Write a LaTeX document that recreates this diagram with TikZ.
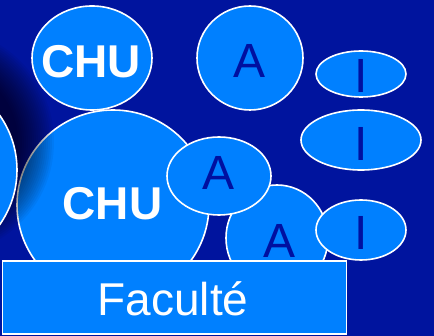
\documentclass[tikz,border=0pt]{standalone}
\usepackage{fontspec}
\setmainfont{Liberation Sans}
\definecolor{bgblue}{RGB}{0,20,158}
\definecolor{lightblue}{RGB}{0,128,255}
\definecolor{txtblue}{RGB}{0,16,160}
\tikzset{
  bubble/.style={fill=lightblue, draw=white, line width=1.6pt},
  chulabel/.style={anchor=base, text=white, font=\fontsize{46}{46}\selectfont\bfseries, inner sep=0pt},
  letterlabel/.style={anchor=base, text=txtblue, font=\fontsize{48}{48}\selectfont, inner sep=0pt},
  faclabel/.style={anchor=base, text=white, font=\fontsize{46}{46}\selectfont, inner sep=0pt}
}
\begin{document}
\begin{tikzpicture}[x=1pt,y=-1pt]
\fill[bgblue] (0,0) rectangle (434,336);
\useasboundingbox (0,0) rectangle (434,336);
\clip (0,0) rectangle (434,336);
% big CHU circle
\path[bubble] (113,205) ellipse [x radius=96, y radius=95];
% blurred shadow of the left circle
\foreach \r in {78,80,...,114} {
  \fill[black, fill opacity=0.045] (-60,142) circle [radius=\r];
}
% left partial circle
\path[bubble] (-78,170) circle [radius=95];
% top CHU ellipse
\path[bubble] (92,58) ellipse [x radius=60, y radius=52];
% top A circle
\path[bubble] (250,58) ellipse [x radius=53, y radius=52];
% top I ellipse
\path[bubble] (361,74) ellipse [x radius=45, y radius=23];
% middle I ellipse
\path[bubble] (361,140) ellipse [x radius=60, y radius=30];
% bottom A circle
\path[bubble] (277,238) ellipse [x radius=51, y radius=53];
% middle A circle
\path[bubble] (219,176) ellipse [x radius=52, y radius=39];
% bottom I ellipse
\path[bubble] (361,230) ellipse [x radius=45, y radius=30];
% Faculte rectangle
\path[bubble, line width=1.2pt] (2.5,261) rectangle (346.5,334);
% labels
\node[chulabel] (chutop) at (91,78) {CHU};
\node[chulabel] (chubig) at (112.5,220) {CHU};
\node[letterlabel] (atop) at (250,78) {A};
\node[letterlabel] (amid) at (219,190) {A};
\node[letterlabel] (abot) at (280,258) {A};
\node[letterlabel] (itop) at (361,93) {I};
\node[letterlabel] (imid) at (361,161) {I};
\node[letterlabel] (ibot) at (361,250) {I};
\node[faclabel] (fac) at (173,316) {Faculté};
\end{tikzpicture}
\end{document}
